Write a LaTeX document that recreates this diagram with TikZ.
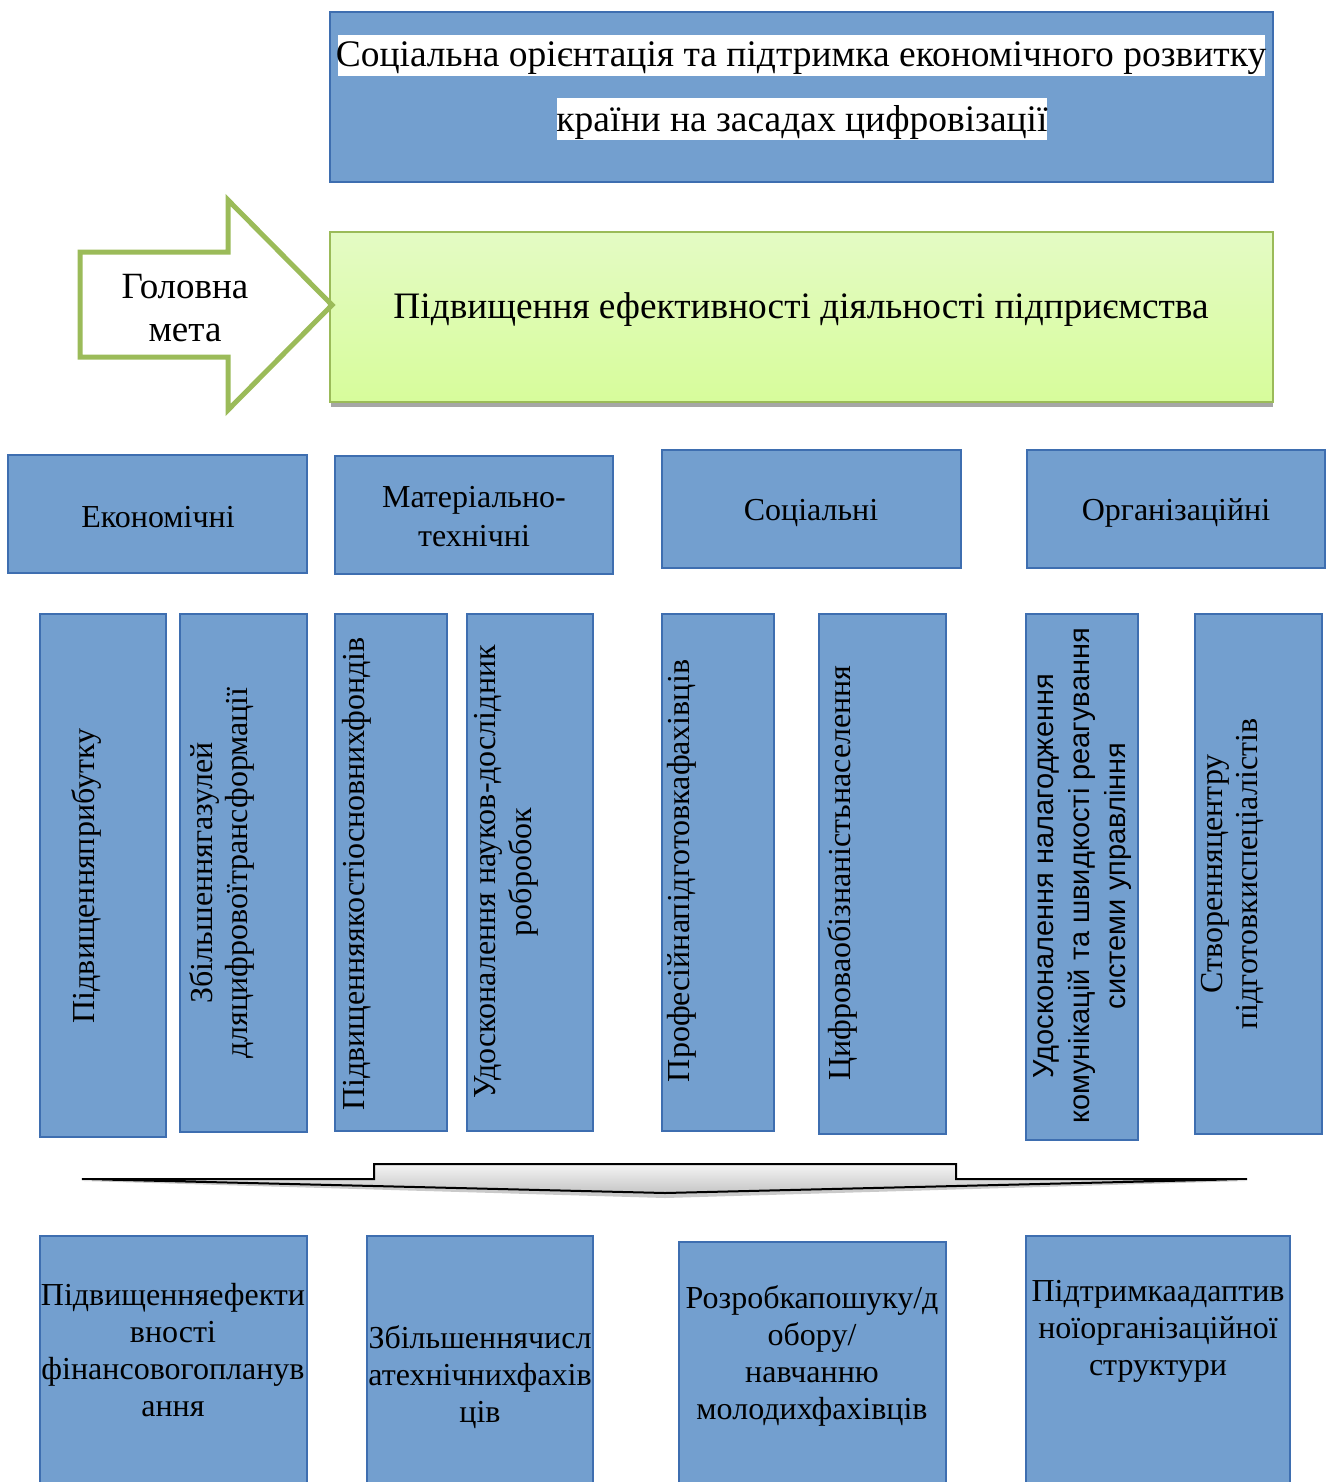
\documentclass[tikz,border=0pt]{standalone}
\usepackage{fontspec}
\setmainfont{Liberation Serif}
\newfontfamily\arialf{Liberation Sans}
\usetikzlibrary{fit}
\definecolor{bfill}{RGB}{115,159,207}
\definecolor{bdraw}{RGB}{62,110,176}
\definecolor{gdraw}{RGB}{155,187,89}
\definecolor{gtop}{RGB}{228,251,196}
\definecolor{gbot}{RGB}{215,252,155}
\newcommand\fs[1]{\fontsize{#1}{#1}\selectfont}
\tikzset{
  bluebox/.style={draw=bdraw, fill=bfill, line width=2pt, inner sep=0pt},
  vtext/.style={rotate=90, align=center, inner sep=0pt, font=\fs{32}, text=black},
  btext/.style={align=center, inner sep=0pt, font=\fs{32}, text=black},
  ctext/.style={align=center, inner sep=0pt, font=\fs{32}, text=black},
}
\begin{document}
\begin{tikzpicture}[x=1pt,y=-1pt]
\useasboundingbox (0,0) rectangle (1333,1482);
% top box
\node[bluebox, fit={(330,12) (1273,182)}] (top) {};
\fill[white] (338,35) rectangle (1265,76);
\fill[white] (557,98) rectangle (1047,140);
\node[ctext, font=\fs{37.5}] (topt1) at (801,58) {Соціальна орієнтація та підтримка економічного розвитку};
\node[ctext, font=\fs{37.5}] (topt2) at (802,122) {країни на засадах цифровізації};
% green box
\fill[gray!70] (331,400) rectangle (1273,407);
\node[draw=gdraw, line width=2pt, top color=gtop, bottom color=gbot, inner sep=0pt, fit={(330,232) (1273,402)}] (goal) {};
\node[ctext, font=\fs{37.3}] (goalt) at (801,310) {Підвищення ефективності діяльності підприємства};
% green arrow
\draw[line width=5pt, draw=gdraw, fill=white, line join=miter, miter limit=10]
  (80,252) -- (228,252) -- (228,200) -- (332,305) -- (228,410) -- (228,357) -- (80,357) -- cycle;
\node[ctext, font=\fs{37}, align=center] (aim) at (185,308) {Головна\\[6pt]мета};
% categories
\node[bluebox, fit={(8,455) (307,573)}] (c1) {};
\node[bluebox, fit={(335,456) (613,574)}] (c2) {};
\node[bluebox, fit={(662,450) (961,568)}] (c3) {};
\node[bluebox, fit={(1027,450) (1325,568)}] (c4) {};
\node[ctext] (c1t) at (158,517) {Економічні};
\node[ctext] (c2t) at (474,517) {Матеріально-\\[7pt]технічні};
\node[ctext] (c3t) at (811,513) {Соціальні};
\node[ctext] (c4t) at (1176,513) {Організаційні};
% vertical boxes
\node[bluebox, fit={(40,614) (166,1137)}] (v1) {};
\node[bluebox, fit={(180,614) (307,1132)}] (v2) {};
\node[bluebox, fit={(335,614) (447,1131)}] (v3) {};
\node[bluebox, fit={(467,614) (593,1131)}] (v4) {};
\node[bluebox, fit={(662,614) (774,1131)}] (v5) {};
\node[bluebox, fit={(819,614) (946,1134)}] (v6) {};
\node[bluebox, fit={(1026,614) (1138,1140)}] (v7) {};
\node[bluebox, fit={(1195,614) (1322,1134)}] (v8) {};
\node[vtext] (v1t) at (86,876) {Підвищенняприбутку};
\node[vtext] (v2t) at (222,873) {Збільшеннягазулей\\[3pt]дляцифровоїтрансформації};
\node[vtext] (v3t) at (357,874) {Підвищенняякостіосновнихфондів};
\node[vtext] (v4t) at (506,872) {Удосконалення науков-дослідник\\[4pt]робробок};
\node[vtext] (v5t) at (682,871) {Професійнапідготовкафахівців};
\node[vtext] (v6t) at (842,873) {Цифроваобізнаністьнаселення};
\node[vtext, font=\arialf\fs{29}] (v7t) at (1083,876) {Удосконалення налагодження\\[7pt]комунікацій та швидкості реагування\\[7pt]системи управління};
\node[vtext] (v8t) at (1232,874) {Створенняцентру\\[3pt]підготовкиспеціалістів};
% grey arrow
\fill[gray!70, opacity=0.6] (84,1181) -- (374,1181) -- (374,1167) -- (956,1167) -- (956,1181) -- (1245,1181) -- (665,1198) -- cycle;
\shade[top color=gray!8, bottom color=gray!45, draw=black, line width=2pt, line join=miter]
  (82,1179) -- (374,1179) -- (374,1164) -- (956,1164) -- (956,1179) -- (1247,1179) -- (665,1193) -- cycle;
\coordinate (arrowtip) at (665,1193);
% bottom boxes
\node[bluebox, fit={(40,1236) (307,1490)}] (b1) {};
\node[bluebox, fit={(367,1236) (593,1490)}] (b2) {};
\node[bluebox, fit={(679,1242) (946,1490)}] (b3) {};
\node[bluebox, fit={(1026,1236) (1290,1490)}] (b4) {};
\node[btext] (b1t) at (173,1350) {Підвищенняефекти\\[5pt]вності\\[5pt]фінансовогопланув\\[5pt]ання};
\node[btext] (b2t) at (480,1377) {Збільшеннячисл\\[5pt]атехнічнихфахів\\[5pt]ців};
\node[btext] (b3t) at (812,1356) {Розробкапошуку/д\\[5pt]обору/\\[5pt]навчанню\\[5pt]молодихфахівців};
\node[btext] (b4t) at (1158,1331) {Підтримкаадаптив\\[5pt]ноїорганізаційної\\[5pt]структури};
\end{tikzpicture}
\end{document}
